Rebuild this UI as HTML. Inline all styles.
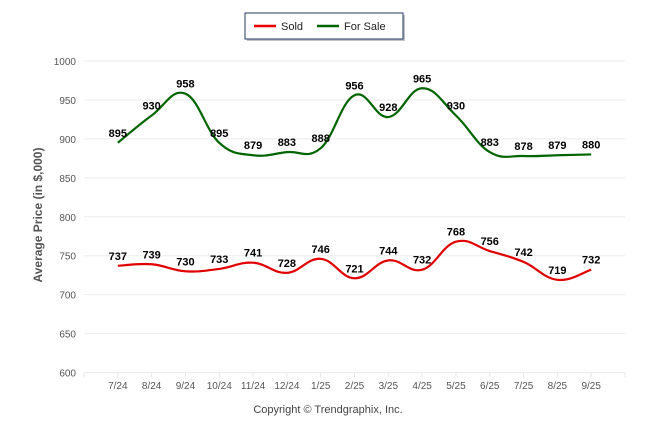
<!DOCTYPE html>
<html><head><meta charset="utf-8"><style>
body{margin:0;background:#fff;}
svg{display:block;font-family:"Liberation Sans",sans-serif;}
</style></head><body>
<svg id="chart" width="646" height="434">
<g>
<rect x="247" y="15" width="158" height="26" fill="#999" opacity="0.6"/>
<rect x="245" y="13" width="158" height="26" fill="#fff" stroke="#1f3864" stroke-width="1"/>
<line x1="254" y1="26" x2="276" y2="26" stroke="#e00" stroke-width="2.5"/>
<text x="281" y="30" font-size="11" fill="#222">Sold</text>
<line x1="317" y1="26" x2="339" y2="26" stroke="#006400" stroke-width="2.5"/>
<text x="344" y="30" font-size="11" fill="#222">For Sale</text>
</g>
<text transform="translate(42,215) rotate(-90)" text-anchor="middle" font-size="12" font-weight="bold" fill="#555">Average Price (in $,000)</text>
<text x="328" y="413" text-anchor="middle" font-size="11" fill="#444">Copyright © Trendgraphix, Inc.</text>
<g id="grid"></g><g id="series"></g>
</svg>
<script>
const categories=["7/24","8/24","9/24","10/24","11/24","12/24","1/25","2/25","3/25","4/25","5/25","6/25","7/25","8/25","9/25"];
const forSale=[895,930,958,895,879,883,888,956,928,965,930,883,878,879,880];
const sold=[737,739,730,733,741,728,746,721,744,732,768,756,742,719,732];
const yTicks=[600,650,700,750,800,850,900,950,1000];
const NS="http://www.w3.org/2000/svg";
const X0=84,X1=625,Y0=372.5,Y1=61;
const slot=(X1-X0)/(categories.length+1);
function x(i){return X0+(i+1)*slot;}
function y(v){return Y0-(v-600)/400*(Y0-Y1);}
function mk(t,a,p){const e=document.createElementNS(NS,t);for(const k in a)e.setAttribute(k,a[k]);p.appendChild(e);return e;}
const grid=document.getElementById('grid'),ser=document.getElementById('series');
yTicks.forEach(v=>{
 const l=mk('line',{x1:X0,x2:X1,y1:y(v),y2:y(v),stroke:'#ebebeb','stroke-width':1},grid);
 
 
 const t=mk('text',{x:76,y:y(v)+4,'text-anchor':'end','font-size':10,fill:'#555'},grid);
 t.textContent=v;
 
 
});
for(let i=0;i<=categories.length+1;i++){
 mk('line',{x1:X0+i*slot,x2:X0+i*slot,y1:Y0,y2:Y0+5,stroke:'#e6e6e6'},grid);
}
categories.forEach((c,i)=>{
 const t=mk('text',{x:x(i),y:389,'text-anchor':'middle','font-size':10,fill:'#555'},grid);
 t.textContent=c;
 
 
});
function path(vals){
 const p=vals.map((v,i)=>[x(i),y(v)]);
 let d='M'+p[0][0]+','+p[0][1];
 for(let i=0;i<p.length-1;i++){
  const p0=p[Math.max(0,i-1)],p1=p[i],p2=p[i+1],p3=p[Math.min(p.length-1,i+2)];
  const k=0.2;
  d+=' C'+(p1[0]+(p2[0]-p0[0])*k)+','+(p1[1]+(p2[1]-p0[1])*k)+' '+(p2[0]-(p3[0]-p1[0])*k)+','+(p2[1]-(p3[1]-p1[1])*k)+' '+p2[0]+','+p2[1];
 }
 return d;
}
function draw(vals,color,name){
 const pe=mk('path',{d:path(vals),fill:'none',stroke:color,'stroke-width':2.2},ser);
 
 
 vals.forEach((v,i)=>{
  const t=mk('text',{x:x(i),y:y(v)-6,'text-anchor':'middle','font-size':11,'font-weight':'bold',fill:'#000'},ser);
  t.textContent=v;
  
  
 });
}
draw(forSale,'#006400','for-sale');
draw(sold,'#e00000','sold');
</script>
</body></html>
